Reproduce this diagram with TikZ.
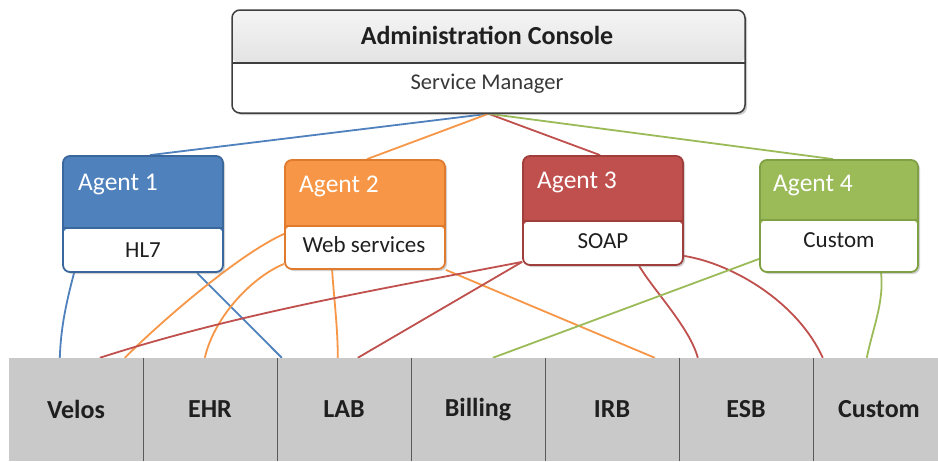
\documentclass[tikz,border=0pt]{standalone}
\usepackage{fontspec}
\setmainfont{Carlito}
\usetikzlibrary{shadows,backgrounds,calc}
\definecolor{bluef}{HTML}{4F81BD}
\definecolor{blueb}{HTML}{3A679C}
\definecolor{orangef}{HTML}{F79646}
\definecolor{orangeb}{HTML}{E07B2E}
\definecolor{redf}{HTML}{C0504D}
\definecolor{redb}{HTML}{A03E3B}
\definecolor{greenf}{HTML}{9BBB59}
\definecolor{greenb}{HTML}{7FA043}
\definecolor{cellgray}{HTML}{C9C9C9}
\definecolor{divgray}{HTML}{5A5A5A}
\definecolor{adminb}{HTML}{3F3F3F}
\tikzset{
  lowh/.store in=\lowh, lowh=44,
  agentbox/.style={rounded corners=7pt, line width=1.8pt, minimum width=160pt,
    inner sep=0pt, draw=#1,
    drop shadow={opacity=0.35,shadow xshift=2pt,shadow yshift=-2pt},
    path picture={
      \fill[white] (path picture bounding box.south west) rectangle
        ([yshift=\lowh pt]path picture bounding box.south east);
      \draw[line width=1.2pt,#1] ([yshift=\lowh pt]path picture bounding box.south west) --
        ([yshift=\lowh pt]path picture bounding box.south east);}},
  adminbox/.style={rounded corners=8pt, line width=1.5pt, draw=adminb, fill=white,
    minimum width=513pt, minimum height=103pt, inner sep=0pt,
    drop shadow={opacity=0.4,shadow xshift=2pt,shadow yshift=-2pt},
    path picture={
      \shade[top color=gray!8, bottom color=gray!35]
        ([yshift=50pt]path picture bounding box.south west) rectangle
        (path picture bounding box.north east);
      \draw[line width=1.2pt,adminb] ([yshift=50pt]path picture bounding box.south west) --
        ([yshift=50pt]path picture bounding box.south east);}},
  cell/.style={fill=cellgray, minimum width=134pt, minimum height=103pt, inner sep=0pt,
    font=\fontsize{26}{30}\selectfont\bfseries, text=black!88},
  divider/.style={draw=divgray, line width=1.2pt},
  title/.style={font=\fontsize{25.5}{30}\selectfont, text=white, anchor=west, inner sep=0pt},
  sublbl/.style={font=\fontsize{23}{27}\selectfont, text=black!88, inner sep=0pt},
  conn/.style={line width=1.8pt},
}
\begin{document}
\begin{tikzpicture}[x=1pt,y=-1pt]
\useasboundingbox (0,0) rectangle (938,461);
% administration console
\node[adminbox] (adm) at (488.5,61.5) {};
\node[font=\fontsize{26}{30}\selectfont\bfseries, text=black!88, inner sep=0pt] (admt) at (487,35) {Administration Console};
\node[font=\fontsize{22.5}{27}\selectfont, text=black!78, inner sep=0pt] (sm) at (487,84) {Service Manager};
% agents
\node[agentbox=blueb, fill=bluef, minimum height=116pt, lowh=44] (a1) at (143,214) {};
\node[agentbox=orangeb, fill=orangef, minimum height=109pt, lowh=43] (a2) at (365,214.5) {};
\node[agentbox=redb, fill=redf, minimum height=109pt, lowh=44] (a3) at (603,210.5) {};
\node[agentbox=greenb, fill=greenf, minimum height=112pt, minimum width=158pt, lowh=52] (a4) at (839,216) {};
\node[title] (a1t) at (78,184) {Agent 1};
\node[title] (a2t) at (299,186) {Agent 2};
\node[title] (a3t) at (537,182) {Agent 3};
\node[title] (a4t) at (773,186) {Agent 4};
\node[sublbl] (a1l) at (143,250) {HL7};
\node[sublbl] (a2l) at (364,245) {Web services};
\node[sublbl] (a3l) at (603,241) {SOAP};
\node[sublbl] (a4l) at (839,240) {Custom};
% systems
\node[cell] (c1) at (76,409.5) {Velos};
\node[cell] (c2) at (210,409.5) {EHR};
\node[cell] (c3) at (344,409.5) {LAB};
\node[cell] (c4) at (478,409.5) {Billing};
\node[cell] (c5) at (612,409.5) {IRB};
\node[cell] (c6) at (746,409.5) {ESB};
\node[cell] (c7) at (879,409.5) {Custom};
\foreach \c in {c1,c2,c3,c4,c5,c6}
  \draw[divider] (\c.north east) -- (\c.south east);
% connectors
\begin{scope}[on background layer]
\fill[white] (0,0) rectangle (938,461);
\draw[conn, bluef] (adm.south) -- ([xshift=7pt]a1.north);
\draw[conn, orangef] (adm.south) -- ([xshift=2pt]a2.north);
\draw[conn, redf] (adm.south) -- ([xshift=-3pt]a3.north);
\draw[conn, greenf] (adm.south) -- ([xshift=-6pt]a4.north);
% blue
\draw[conn, bluef] ([xshift=12pt]a1.south west) .. controls +(-8,30) and +(1,-30) .. ([xshift=51pt]c1.north west);
\draw[conn, bluef] ([xshift=135pt]a1.south west) -- ([xshift=5pt]c3.north west);
% orange
\draw[conn, orangef] ([yshift=36pt]a2.south west) .. controls +(-43,19) and +(40,-40) .. ([xshift=116pt]c1.north west);
\draw[conn, orangef] ([yshift=6pt]a2.south west) .. controls +(-30,12) and +(10,-43) .. ([xshift=62pt]c2.north west);
\draw[conn, orangef] ([xshift=48pt]a2.south west) .. controls +(2,30) and +(0,-30) .. ([xshift=61pt]c3.north west);
\draw[conn, orangef] (a2.south east) -- ([xshift=110pt]c5.north west);
% red
\draw[conn, redf] ([yshift=4pt]a3.south west) .. controls +(-140,27) and +(140,-45) .. ([xshift=91pt]c1.north west);
\draw[conn, redf] ([yshift=4pt]a3.south west) -- ([xshift=81pt]c3.north west);
\draw[conn, redf] ([xshift=117pt]a3.south west) .. controls +(15,25) and +(-8,-30) .. ([xshift=19pt]c6.north west);
\draw[conn, redf] ([yshift=10pt]a3.south east) .. controls +(50,8) and +(-25,-55) .. ([xshift=11pt]c7.north west);
% green
\draw[conn, greenf] ([yshift=14pt]a4.south west) -- ([xshift=82pt]c4.north west);
\draw[conn, greenf] ([xshift=122pt]a4.south west) .. controls +(3,30) and +(6,-30) .. ([xshift=55pt]c7.north west);
\end{scope}
\end{tikzpicture}
\end{document}
